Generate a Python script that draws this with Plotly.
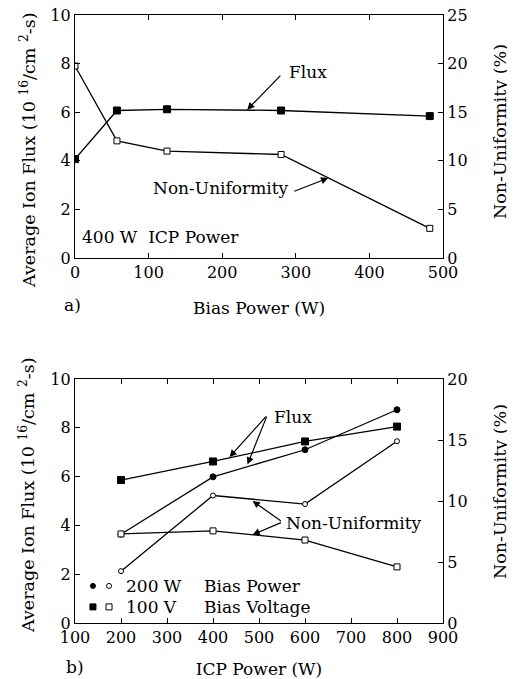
import plotly.graph_objects as go

# ---------------- data ----------------
# panel a)
bias_power = [0, 57, 125, 280, 482]
flux_a = [4.07, 6.07, 6.12, 6.07, 5.84]
nonunif_a = [19.75, 12.05, 11.0, 10.65, 3.05]

# panel b)
icp_power = [200, 400, 600, 800]
flux_200w = [3.64, 5.99, 7.10, 8.74]
flux_100v = [5.86, 6.62, 7.44, 8.05]
nonunif_200w = [4.25, 10.45, 9.75, 14.9]
nonunif_100v = [7.3, 7.55, 6.8, 4.6]

FONT = "DejaVu Serif"
LW = 1.3
BLK = "black"
W, H = 507, 671   # page body has an 8px margin; screen px = figure px + 8
OFF = 8

fig = go.Figure()

def line_trace(x, y, xa, ya, symbol, size, filled):
    return go.Scatter(
        x=x, y=y, xaxis=xa, yaxis=ya, mode="lines+markers",
        line=dict(color=BLK, width=LW),
        marker=dict(symbol=symbol, size=size,
                    color=BLK if filled else "white",
                    line=dict(color=BLK, width=1)),
        showlegend=False, hoverinfo="skip")

# panel a
fig.add_trace(line_trace(bias_power, flux_a, "x", "y", "square", 7, True))
fig.add_trace(line_trace(bias_power, nonunif_a, "x", "y2", "square", 6, False))
# panel b
fig.add_trace(line_trace(icp_power, flux_200w, "x2", "y3", "circle", 6, True))
fig.add_trace(line_trace(icp_power, flux_100v, "x2", "y3", "square", 7, True))
fig.add_trace(line_trace(icp_power, nonunif_200w, "x2", "y4", "circle", 5, False))
fig.add_trace(line_trace(icp_power, nonunif_100v, "x2", "y4", "square", 6, False))

def px(sx):
    return (sx - OFF) / W

def py(sy):
    return (H - (sy - OFF)) / H

xdom = [px(75), px(443)]
top_dom = [py(258), py(15)]
bot_dom = [py(623), py(379)]

TICK_SIZE = 16
TITLE_SIZE = 17

axis_common = dict(showline=True, linecolor=BLK, linewidth=1.3, ticks="inside",
                   ticklen=5, tickcolor=BLK, tickwidth=1.2, showgrid=False,
                   zeroline=False, automargin=False, ticklabeloverflow="allow",
                   tickfont=dict(family=FONT, size=TICK_SIZE, color=BLK))

xtitle_font = dict(family=FONT, size=TITLE_SIZE, color=BLK)

fig.update_layout(
    width=W, height=H, margin=dict(l=0, r=0, t=0, b=0),
    paper_bgcolor="white", plot_bgcolor="white",
    font=dict(family=FONT, size=TICK_SIZE, color=BLK),
    xaxis=dict(axis_common, domain=xdom, anchor="y", range=[0, 500], dtick=100,
               mirror="ticks",
               title=dict(text="Bias Power (W)", font=xtitle_font, standoff=20)),
    yaxis=dict(axis_common, domain=top_dom, anchor="x", range=[0, 10], dtick=2),
    yaxis2=dict(axis_common, domain=top_dom, anchor="x", overlaying="y", side="right",
                range=[0, 25], dtick=5),
    xaxis2=dict(axis_common, domain=xdom, anchor="y3", range=[100, 900], dtick=100,
                mirror="ticks",
                title=dict(text="ICP Power (W)", font=xtitle_font, standoff=17)),
    yaxis3=dict(axis_common, domain=bot_dom, anchor="x2", range=[0, 10], dtick=2),
    yaxis4=dict(axis_common, domain=bot_dom, anchor="x2", overlaying="y3", side="right",
                range=[0, 20], dtick=5),
)

def txt(x, y, s, xref, yref, xanchor="left", angle=0, size=TITLE_SIZE):
    fig.add_annotation(x=x, y=y, xref=xref, yref=yref, text=s, showarrow=False,
                       xanchor=xanchor, yanchor="middle", textangle=angle,
                       font=dict(family=FONT, size=size, color=BLK))

def arrow(x, y, ax, ay, xref, yref):
    fig.add_annotation(x=x, y=y, ax=ax, ay=ay, xref=xref, yref=yref,
                       axref=xref, ayref=yref, text="", showarrow=True,
                       arrowhead=2, arrowsize=1.2, arrowwidth=1.2, arrowcolor=BLK,
                       standoff=0, startstandoff=0)

# y-axis titles
YT = "Average Ion Flux (10 <sup>16</sup>/cm <sup>2</sup>-s)"
Y2T = "Non-Uniformity (%)"
txt(px(28), py(151), YT, "paper", "paper", "center", -90, 17.5)
txt(px(500), py(132), Y2T, "paper", "paper", "center", -90, 17.5)
txt(px(27), py(496), YT, "paper", "paper", "center", -90, 17.5)
txt(px(500), py(492), Y2T, "paper", "paper", "center", -90, 17.5)

# panel a annotations
txt(288, 7.65, "Flux", "x", "y")
arrow(234, 6.1, 281, 7.57, "x", "y")
txt(293.5, 2.88, "Non-Uniformity", "x", "y", "right")
arrow(344, 3.29, 296, 2.72, "x", "y")
txt(6.8, 0.86, "400 W&nbsp;&nbsp;ICP Power", "x", "y")
txt(px(62), py(305), "a)", "paper", "paper")

# panel b annotations
txt(529, 8.44, "Flux", "x2", "y3")
arrow(436, 6.8, 518, 8.52, "x2", "y3")
arrow(475, 6.5, 518, 8.52, "x2", "y3")
txt(555, 4.10, "Non-Uniformity", "x2", "y3")
arrow(486, 5.0, 551, 4.14, "x2", "y3")
arrow(486, 3.62, 551, 4.14, "x2", "y3")
txt(px(64), py(667), "b)", "paper", "paper")

# legend (panel b)
leg_rows = [("circle", "200 W", "Bias Power", 1.52), ("square", "100 V", "Bias Voltage", 0.66)]
for shape, s1, s2, yy in leg_rows:
    for xx, filled in ((139, True), (174, False)):
        r = 2.5 if shape == "circle" else 3
        fig.add_shape(type="circle" if shape == "circle" else "rect",
                      xref="x2", yref="y3", xsizemode="pixel", ysizemode="pixel",
                      xanchor=xx, yanchor=yy, x0=-r, x1=r, y0=-r, y1=r,
                      fillcolor=BLK if filled else "white", line=dict(color=BLK, width=1))
    txt(207, yy, s1, "x2", "y3")
    txt(375, yy, s2, "x2", "y3")

fig.write_html("out.html")
